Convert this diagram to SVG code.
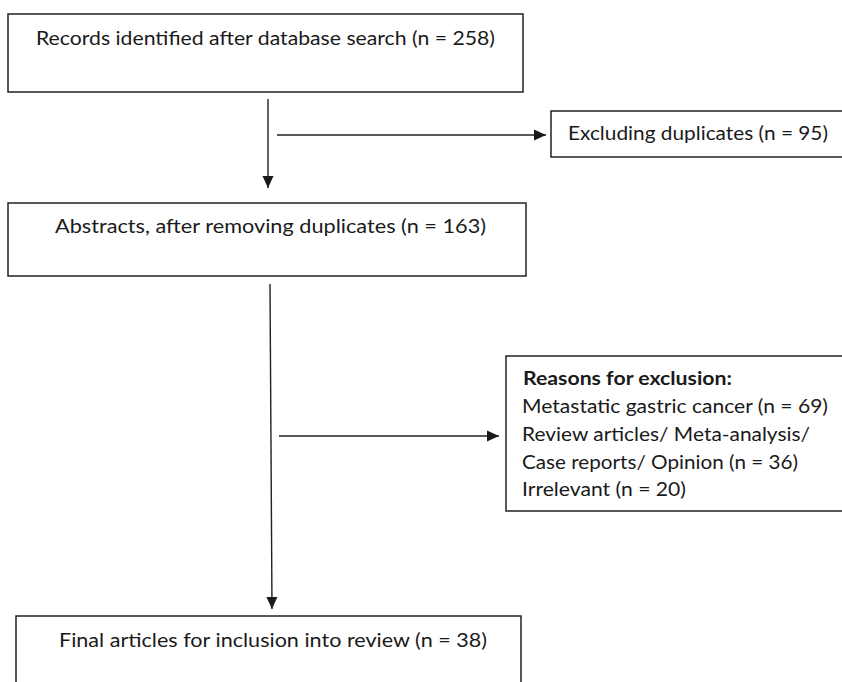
<svg xmlns="http://www.w3.org/2000/svg" width="842" height="682" viewBox="0 0 842 682">
<defs>
<style>
.box{fill:#fff;stroke:#222;stroke-width:1.5}
.t{font-family:Lato,"Liberation Sans",sans-serif;font-size:19.5px;fill:#1a1a1a}
.s{font-size:18.5px}
.b{font-weight:bold}
.ln{stroke:#222;stroke-width:1.4;fill:none}
</style>
<marker id="ah" viewBox="0 0 12 12" refX="12" refY="6" markerWidth="12" markerHeight="12" markerUnits="userSpaceOnUse" orient="auto">
<path d="M0,0.5 L12,6 L0,11.5 Z" fill="#1a1a1a"/>
</marker>
</defs>
<rect width="842" height="682" fill="#fff"/>
<g id="connectors">
<line class="ln" x1="268" y1="99" x2="268" y2="188" marker-end="url(#ah)"/>
<line class="ln" x1="277" y1="135" x2="546" y2="135" marker-end="url(#ah)"/>
<line class="ln" x1="270" y1="284" x2="272" y2="609" marker-end="url(#ah)"/>
<line class="ln" x1="279" y1="436" x2="499" y2="436" marker-end="url(#ah)"/>
</g>
<g id="records">
<rect class="box" x="8" y="14" width="515" height="78"/>
<text class="t" x="36" y="45" textLength="459" lengthAdjust="spacingAndGlyphs">Records identified after database search (n = 258)</text>
</g>
<g id="excluding">
<rect class="box" x="551" y="111" width="300" height="46"/>
<text class="t" x="568" y="140" textLength="260" lengthAdjust="spacingAndGlyphs">Excluding duplicates (n = 95)</text>
</g>
<g id="abstracts">
<rect class="box" x="8" y="203" width="518" height="73"/>
<text class="t" x="55" y="233" textLength="431" lengthAdjust="spacingAndGlyphs">Abstracts, after removing duplicates (n = 163)</text>
</g>
<g id="reasons">
<rect class="box" x="506" y="356" width="345" height="155"/>
<text class="t s b" x="523" y="385" textLength="209" lengthAdjust="spacingAndGlyphs">Reasons for exclusion:</text>
<text class="t s" x="522" y="413" textLength="306" lengthAdjust="spacingAndGlyphs">Metastatic gastric cancer (n = 69)</text>
<text class="t s" x="522" y="441" textLength="288" lengthAdjust="spacingAndGlyphs">Review articles/ Meta-analysis/</text>
<text class="t s" x="522" y="469" textLength="276" lengthAdjust="spacingAndGlyphs">Case reports/ Opinion (n = 36)</text>
<text class="t s" x="522" y="496" textLength="164" lengthAdjust="spacingAndGlyphs">Irrelevant (n = 20)</text>
</g>
<g id="final">
<rect class="box" x="16" y="616" width="505" height="80"/>
<text class="t" x="59" y="647" textLength="428" lengthAdjust="spacingAndGlyphs">Final articles for inclusion into review (n = 38)</text>
</g>
</svg>
